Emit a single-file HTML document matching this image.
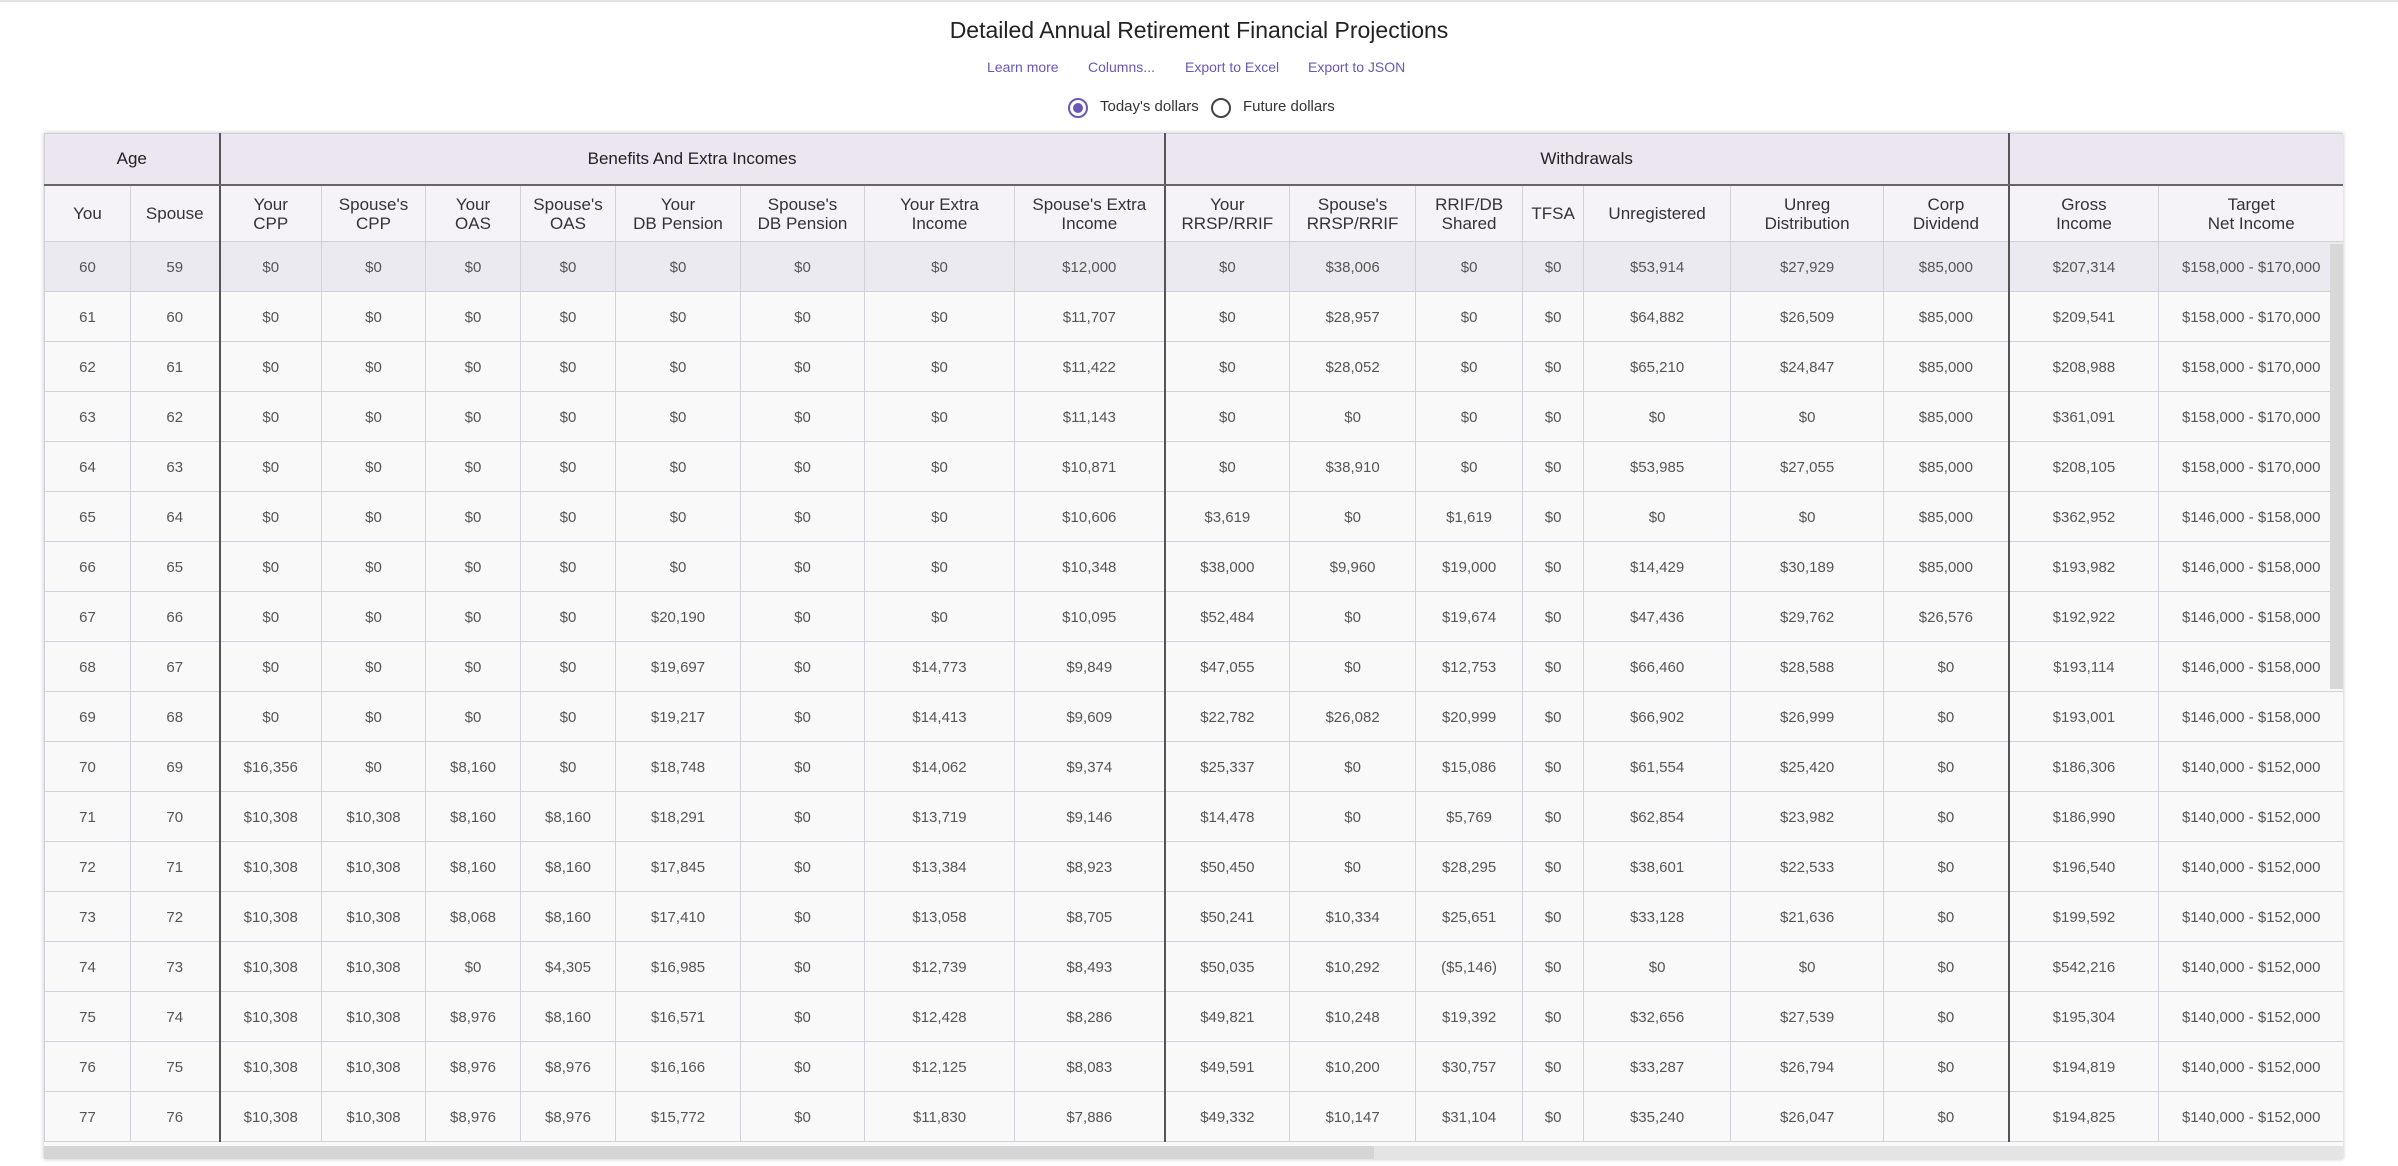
<!DOCTYPE html>
<html><head><meta charset="utf-8"><style>
body{margin:0;width:2398px;height:1166px;background:#fff;font-family:"Liberation Sans",sans-serif;position:relative;overflow:hidden;border-top:2px solid #e2e2e6;box-sizing:border-box}
.t{position:absolute;top:15px;left:0;width:2398px;text-align:center;font-size:23px;color:#222}
.l{position:absolute;top:57px;font-size:14px;color:#6a58b8}
.r{position:absolute;top:96px;width:16px;height:16px;border-radius:50%;border:2.5px solid #444}
.rt{position:absolute;top:96px;font-size:15px;color:#333}
.w{position:absolute;left:44px;top:131px;width:2299px;height:1026px;box-shadow:0 0 4px rgba(0,0,0,.25);overflow:hidden;background:#f9f9f9}
table{border-collapse:collapse;table-layout:fixed;width:2299px}
td,th{text-align:center;font-weight:normal;color:#555;font-size:15px;border:1px solid #d3d0da;padding:0;white-space:nowrap}
tr.g th{height:50px;background:#ebe6f0;color:#222;font-size:17px;border-bottom:2px solid #666}
tr.h th{height:55px;background:#f5f2f8;color:#333;font-size:17px;line-height:19px}
tbody td{height:47px;padding-top:2px;box-sizing:content-box}
tbody tr:first-child td{background:#ebeaf0}
.k{border-left:2px solid #555}
.vs{position:absolute;right:0;top:111px;width:13px;height:445px;background:#d8d8d8}
.hs{position:absolute;left:0;bottom:0;width:2299px;height:13px;background:#e4e4e4}
.hs div{width:1330px;height:13px;background:#d5d5d5}
</style></head><body>
<div class="t">Detailed Annual Retirement Financial Projections</div>
<div class="l" style="left:987px">Learn more</div>
<div class="l" style="left:1088px">Columns...</div>
<div class="l" style="left:1185px">Export to Excel</div>
<div class="l" style="left:1308px">Export to JSON</div>
<div class="r" style="left:1068px;border-color:#6a58b8"><div style="margin:3px;width:10px;height:10px;border-radius:50%;background:#6a58b8"></div></div>
<div class="rt" style="left:1100px">Today's dollars</div>
<div class="r" style="left:1211px"></div>
<div class="rt" style="left:1243px">Future dollars</div>
<div class="w">
<table>
<colgroup><col style="width:86px"><col style="width:89px"><col style="width:102px"><col style="width:104px"><col style="width:95px"><col style="width:95px"><col style="width:125px"><col style="width:124px"><col style="width:150px"><col style="width:150px"><col style="width:125px"><col style="width:126px"><col style="width:107px"><col style="width:61px"><col style="width:147px"><col style="width:153px"><col style="width:125px"><col style="width:150px"><col style="width:185px"></colgroup>
<thead>
<tr class="g"><th colspan="2">Age</th><th colspan="8" class="k">Benefits And Extra Incomes</th><th colspan="7" class="k">Withdrawals</th><th colspan="2" class="k"></th></tr>
<tr class="h"><th>You</th><th>Spouse</th><th class="k">Your<br>CPP</th><th>Spouse's<br>CPP</th><th>Your<br>OAS</th><th>Spouse's<br>OAS</th><th>Your<br>DB Pension</th><th>Spouse's<br>DB Pension</th><th>Your Extra<br>Income</th><th>Spouse's Extra<br>Income</th><th class="k">Your<br>RRSP/RRIF</th><th>Spouse's<br>RRSP/RRIF</th><th>RRIF/DB<br>Shared</th><th>TFSA</th><th>Unregistered</th><th>Unreg<br>Distribution</th><th>Corp<br>Dividend</th><th class="k">Gross<br>Income</th><th>Target<br>Net Income</th></tr>
</thead>
<tbody>
<tr><td>60</td><td>59</td><td class="k">$0</td><td>$0</td><td>$0</td><td>$0</td><td>$0</td><td>$0</td><td>$0</td><td>$12,000</td><td class="k">$0</td><td>$38,006</td><td>$0</td><td>$0</td><td>$53,914</td><td>$27,929</td><td>$85,000</td><td class="k">$207,314</td><td>$158,000 - $170,000</td></tr>
<tr><td>61</td><td>60</td><td class="k">$0</td><td>$0</td><td>$0</td><td>$0</td><td>$0</td><td>$0</td><td>$0</td><td>$11,707</td><td class="k">$0</td><td>$28,957</td><td>$0</td><td>$0</td><td>$64,882</td><td>$26,509</td><td>$85,000</td><td class="k">$209,541</td><td>$158,000 - $170,000</td></tr>
<tr><td>62</td><td>61</td><td class="k">$0</td><td>$0</td><td>$0</td><td>$0</td><td>$0</td><td>$0</td><td>$0</td><td>$11,422</td><td class="k">$0</td><td>$28,052</td><td>$0</td><td>$0</td><td>$65,210</td><td>$24,847</td><td>$85,000</td><td class="k">$208,988</td><td>$158,000 - $170,000</td></tr>
<tr><td>63</td><td>62</td><td class="k">$0</td><td>$0</td><td>$0</td><td>$0</td><td>$0</td><td>$0</td><td>$0</td><td>$11,143</td><td class="k">$0</td><td>$0</td><td>$0</td><td>$0</td><td>$0</td><td>$0</td><td>$85,000</td><td class="k">$361,091</td><td>$158,000 - $170,000</td></tr>
<tr><td>64</td><td>63</td><td class="k">$0</td><td>$0</td><td>$0</td><td>$0</td><td>$0</td><td>$0</td><td>$0</td><td>$10,871</td><td class="k">$0</td><td>$38,910</td><td>$0</td><td>$0</td><td>$53,985</td><td>$27,055</td><td>$85,000</td><td class="k">$208,105</td><td>$158,000 - $170,000</td></tr>
<tr><td>65</td><td>64</td><td class="k">$0</td><td>$0</td><td>$0</td><td>$0</td><td>$0</td><td>$0</td><td>$0</td><td>$10,606</td><td class="k">$3,619</td><td>$0</td><td>$1,619</td><td>$0</td><td>$0</td><td>$0</td><td>$85,000</td><td class="k">$362,952</td><td>$146,000 - $158,000</td></tr>
<tr><td>66</td><td>65</td><td class="k">$0</td><td>$0</td><td>$0</td><td>$0</td><td>$0</td><td>$0</td><td>$0</td><td>$10,348</td><td class="k">$38,000</td><td>$9,960</td><td>$19,000</td><td>$0</td><td>$14,429</td><td>$30,189</td><td>$85,000</td><td class="k">$193,982</td><td>$146,000 - $158,000</td></tr>
<tr><td>67</td><td>66</td><td class="k">$0</td><td>$0</td><td>$0</td><td>$0</td><td>$20,190</td><td>$0</td><td>$0</td><td>$10,095</td><td class="k">$52,484</td><td>$0</td><td>$19,674</td><td>$0</td><td>$47,436</td><td>$29,762</td><td>$26,576</td><td class="k">$192,922</td><td>$146,000 - $158,000</td></tr>
<tr><td>68</td><td>67</td><td class="k">$0</td><td>$0</td><td>$0</td><td>$0</td><td>$19,697</td><td>$0</td><td>$14,773</td><td>$9,849</td><td class="k">$47,055</td><td>$0</td><td>$12,753</td><td>$0</td><td>$66,460</td><td>$28,588</td><td>$0</td><td class="k">$193,114</td><td>$146,000 - $158,000</td></tr>
<tr><td>69</td><td>68</td><td class="k">$0</td><td>$0</td><td>$0</td><td>$0</td><td>$19,217</td><td>$0</td><td>$14,413</td><td>$9,609</td><td class="k">$22,782</td><td>$26,082</td><td>$20,999</td><td>$0</td><td>$66,902</td><td>$26,999</td><td>$0</td><td class="k">$193,001</td><td>$146,000 - $158,000</td></tr>
<tr><td>70</td><td>69</td><td class="k">$16,356</td><td>$0</td><td>$8,160</td><td>$0</td><td>$18,748</td><td>$0</td><td>$14,062</td><td>$9,374</td><td class="k">$25,337</td><td>$0</td><td>$15,086</td><td>$0</td><td>$61,554</td><td>$25,420</td><td>$0</td><td class="k">$186,306</td><td>$140,000 - $152,000</td></tr>
<tr><td>71</td><td>70</td><td class="k">$10,308</td><td>$10,308</td><td>$8,160</td><td>$8,160</td><td>$18,291</td><td>$0</td><td>$13,719</td><td>$9,146</td><td class="k">$14,478</td><td>$0</td><td>$5,769</td><td>$0</td><td>$62,854</td><td>$23,982</td><td>$0</td><td class="k">$186,990</td><td>$140,000 - $152,000</td></tr>
<tr><td>72</td><td>71</td><td class="k">$10,308</td><td>$10,308</td><td>$8,160</td><td>$8,160</td><td>$17,845</td><td>$0</td><td>$13,384</td><td>$8,923</td><td class="k">$50,450</td><td>$0</td><td>$28,295</td><td>$0</td><td>$38,601</td><td>$22,533</td><td>$0</td><td class="k">$196,540</td><td>$140,000 - $152,000</td></tr>
<tr><td>73</td><td>72</td><td class="k">$10,308</td><td>$10,308</td><td>$8,068</td><td>$8,160</td><td>$17,410</td><td>$0</td><td>$13,058</td><td>$8,705</td><td class="k">$50,241</td><td>$10,334</td><td>$25,651</td><td>$0</td><td>$33,128</td><td>$21,636</td><td>$0</td><td class="k">$199,592</td><td>$140,000 - $152,000</td></tr>
<tr><td>74</td><td>73</td><td class="k">$10,308</td><td>$10,308</td><td>$0</td><td>$4,305</td><td>$16,985</td><td>$0</td><td>$12,739</td><td>$8,493</td><td class="k">$50,035</td><td>$10,292</td><td>($5,146)</td><td>$0</td><td>$0</td><td>$0</td><td>$0</td><td class="k">$542,216</td><td>$140,000 - $152,000</td></tr>
<tr><td>75</td><td>74</td><td class="k">$10,308</td><td>$10,308</td><td>$8,976</td><td>$8,160</td><td>$16,571</td><td>$0</td><td>$12,428</td><td>$8,286</td><td class="k">$49,821</td><td>$10,248</td><td>$19,392</td><td>$0</td><td>$32,656</td><td>$27,539</td><td>$0</td><td class="k">$195,304</td><td>$140,000 - $152,000</td></tr>
<tr><td>76</td><td>75</td><td class="k">$10,308</td><td>$10,308</td><td>$8,976</td><td>$8,976</td><td>$16,166</td><td>$0</td><td>$12,125</td><td>$8,083</td><td class="k">$49,591</td><td>$10,200</td><td>$30,757</td><td>$0</td><td>$33,287</td><td>$26,794</td><td>$0</td><td class="k">$194,819</td><td>$140,000 - $152,000</td></tr>
<tr><td>77</td><td>76</td><td class="k">$10,308</td><td>$10,308</td><td>$8,976</td><td>$8,976</td><td>$15,772</td><td>$0</td><td>$11,830</td><td>$7,886</td><td class="k">$49,332</td><td>$10,147</td><td>$31,104</td><td>$0</td><td>$35,240</td><td>$26,047</td><td>$0</td><td class="k">$194,825</td><td>$140,000 - $152,000</td></tr>
</tbody></table>
<div class="vs"></div>
<div class="hs"><div></div></div>
</div>
</body></html>
